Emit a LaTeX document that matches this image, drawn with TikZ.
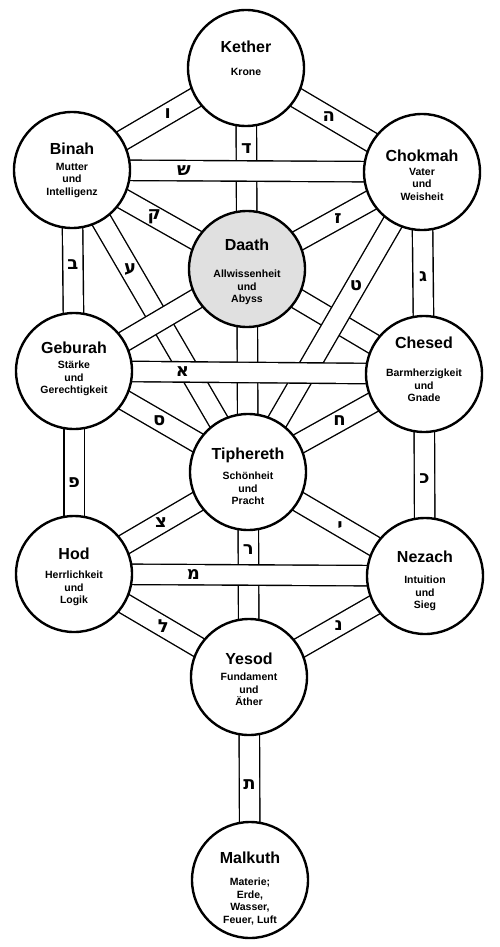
\documentclass[tikz,border=0pt]{standalone}
\usepackage{fontspec}
\setmainfont{Liberation Sans}
\newfontfamily\hebfont[Script=Hebrew]{DejaVu Sans}
\usepackage{tikz}
\pgfdeclarelayer{background}
\pgfsetlayers{background,main}
\definecolor{daathfill}{RGB}{224,224,224}

\begin{document}
\begin{tikzpicture}[x=1pt,y=-1pt,
  sefira/.style={circle,draw,line width=2.4pt,minimum size=116pt,inner sep=0pt},
  band/.style={draw=black,line width=1.4pt,double=white,double distance=19pt},
  titletext/.style={font=\bfseries\fontsize{16}{18}\selectfont,inner sep=0pt,anchor=base},
  subtext/.style={font=\bfseries\fontsize{10.5}{12.5}\selectfont,align=center,inner sep=0pt,anchor=north},
  letter/.style={font=\hebfont\bfseries\fontsize{18}{18}\selectfont,inner sep=0pt}]
 \useasboundingbox (0,0) rectangle (500,947);
 % the ten sefirot and Daath
 \foreach \n/\x/\y/\f/\t/\ty/\s/\sy in {
   kether/246/68/white/Kether/47/{Krone}/73,
   binah/72/170/white/Binah/148/{Mutter\\und\\Intelligenz}/168,
   chokmah/422/172/white/Chokmah/155/{Vater\\und\\Weisheit}/173,
   daath/247/269/daathfill/Daath/244/{Allwissenheit\\und\\Abyss}/275,
   geburah/74/371/white/Geburah/347/{Stärke\\und\\Gerechtigkeit}/366,
   chesed/424/374/white/Chesed/342/{Barmherzigkeit\\und\\Gnade}/374,
   tiphereth/248/472/white/Tiphereth/453/{Schönheit\\und\\Pracht}/477,
   hod/74/574/white/Hod/553/{Herrlichkeit\\und\\Logik}/576,
   nezach/425/576/white/Nezach/556/{Intuition\\und\\Sieg}/581,
   yesod/249/677/white/Yesod/658/{Fundament\\und\\Äther}/678,
   malkuth/250/880/white/Malkuth/857/{Materie;\\Erde,\\Wasser,\\Feuer, Luft}/883}{
  \node[sefira,fill=\f] (\n) at (\x,\y) {};
  \node[titletext] (\n-t) at (\x,\ty+6) {\t};
  \node[subtext] (\n-s) at (\x,\sy-5) {\s};
 }

 % paths, later ones lie over earlier ones
 \begin{pgfonlayer}{background}
  \foreach \a/\b in {kether/binah,kether/chokmah,kether/daath,binah/geburah,
    chokmah/chesed,binah/daath,chokmah/daath,binah/tiphereth,daath/geburah,
    daath/chesed,chokmah/tiphereth,daath/tiphereth,binah/chokmah,geburah/chesed,
    geburah/hod,chesed/nezach,geburah/tiphereth,chesed/tiphereth,tiphereth/hod,
    tiphereth/nezach,tiphereth/yesod,hod/nezach,hod/yesod,nezach/yesod,yesod/malkuth}
   \draw[band] (\a.center) -- (\b.center);
 \end{pgfonlayer}

 % letters
 \foreach \a/\b/\p/\l/\c in {kether/binah/.45/vav/ו,kether/chokmah/.47/he/ה,
   kether/daath/.40/dalet/ד,binah/chokmah/.32/shin/ש,binah/daath/.47/qof/ק,
   chokmah/daath/.48/zayin/ז,binah/geburah/.47/bet/ב,chokmah/chesed/.52/gimel/ג,
   binah/tiphereth/.33/ayin/ע,chokmah/tiphereth/.38/tet/ט,geburah/chesed/.31/alef/א,
   geburah/tiphereth/.49/samekh/ס,chesed/tiphereth/.48/het/ח,geburah/hod/.55/pe/פ,
   chesed/nezach/.52/kaf/כ,tiphereth/hod/.5/tsadi/צ,tiphereth/nezach/.52/yod/י,
   tiphereth/yesod/.38/resh/ר,hod/nezach/.34/mem/מ,hod/yesod/.51/lamed/ל,
   nezach/yesod/.49/nun/נ,yesod/malkuth/.53/tav/ת}
  \path (\a.center) -- (\b.center) node[letter,pos=\p] (l-\l) {\c};
\end{tikzpicture}
\end{document}
